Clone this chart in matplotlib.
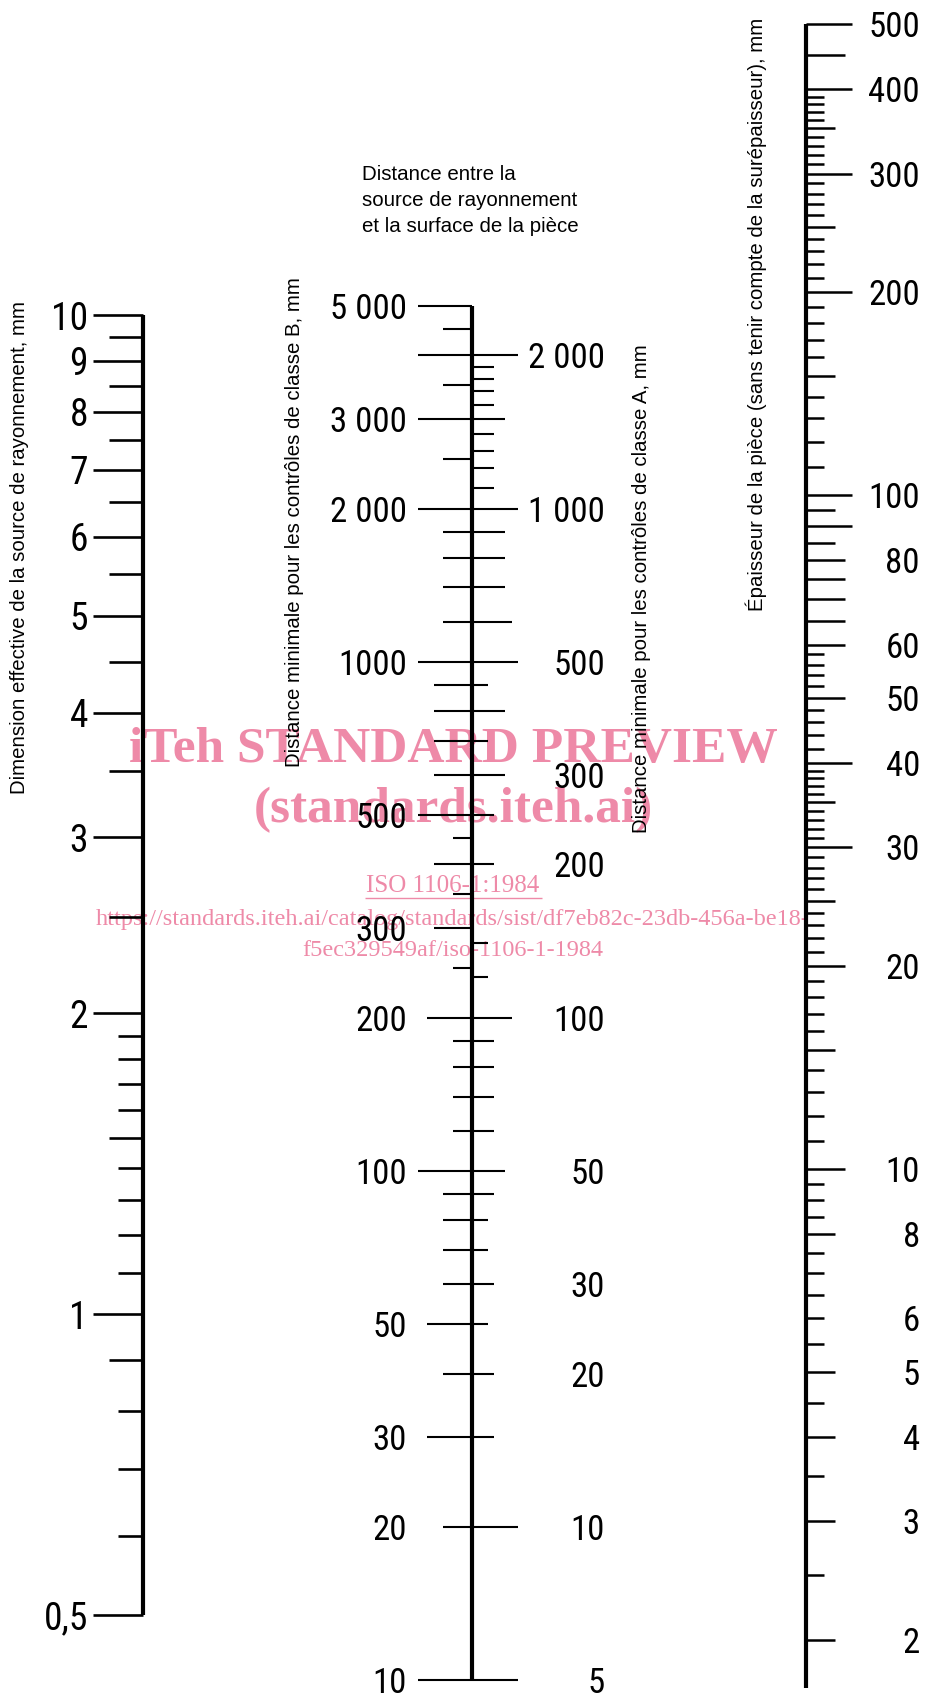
"""Nomogram: source size / source-to-object distance / object thickness (ISO 1106-1)."""

import numpy as np
import matplotlib
matplotlib.use("Agg")
import matplotlib.pyplot as plt
from matplotlib import font_manager as fm

W, H = 929, 1696  # output size in px (dpi 100)

# ---------------------------------------------------------------------------
# Data
# ---------------------------------------------------------------------------

# left scale: effective source size, mm
LEFT_LABEL_VALUES = [0.5, 1, 2, 3, 4, 5, 6, 7, 8, 9, 10]
LEFT_LABELS = ["0,5", "1", "2", "3", "4", "5", "6", "7", "8", "9", "10"]
LEFT_MID_TICKS = [0.9, 1.5, 2.5, 3.5, 4.5, 5.5, 6.5, 7.5, 8.5, 9.5]
LEFT_MINOR_TICKS = [0.6, 0.7, 0.8, 1.1, 1.2, 1.3, 1.4, 1.6, 1.7, 1.8, 1.9]

# middle scale, left side: class B distance, mm
B_LABEL_VALUES = [10, 20, 30, 50, 100, 200, 300, 500, 1000, 2000, 3000, 5000]
B_LABELS = ["10", "20", "30", "50", "100", "200", "300", "500", "1000",
            "2 000", "3 000", "5 000"]
B_TICKS_LONG = [10, 100, 500, 1000, 2000, 3000, 4000, 5000]
B_TICKS_MID = [30, 50, 200]
B_TICKS_SHORT = [300, 400, 600, 700, 800, 900]
B_TICKS_MINOR = [20, 40, 60, 70, 80, 90, 1200, 1400, 1600, 1800, 2500, 3500, 4500]
B_TICKS_TINY = [120, 140, 160, 180, 250, 350, 450]

# middle scale, right side: class A distance, mm (A = B / 2)
A_LABEL_VALUES = [5, 10, 20, 30, 50, 100, 200, 300, 500, 1000, 2000]
A_LABELS = ["5", "10", "20", "30", "50", "100", "200", "300", "500",
            "1 000", "2 000"]
A_TICKS_LONG = [5, 10, 500, 1000, 2000]
A_TICKS_MID = [100, 600]
A_TICKS_SHORT = [50, 300, 400, 700, 800, 900, 1500]
A_TICKS_MINOR = [15, 20, 30, 45, 60, 70, 80, 90, 200, 250,
                 1100, 1200, 1300, 1400, 1600, 1700, 1800, 1900]
A_TICKS_TINY = [25, 35, 40, 120, 140, 350, 450]

# right scale: object thickness, mm
R_LABEL_VALUES = [2, 3, 4, 5, 6, 8, 10, 20, 30, 40, 50, 60, 80, 100, 200, 300, 400, 500]
R_TICKS_LONG = [30, 40, 90, 100, 200, 300, 400, 500]
R_TICKS_MID = [10, 20, 50, 60, 65, 70, 75, 80, 450]
R_TICKS_SHORT = [2, 3, 4, 5, 8, 15, 25, 35, 85, 95, 150, 250, 350]
R_TICKS_MINOR = [2.5, 3.5, 4.5, 5.5, 6, 6.5, 7, 7.5, 8.5, 9, 9.5,
                 11, 12, 13, 14, 16, 17, 18, 19, 21, 22, 23, 24, 26, 27, 28, 29,
                 31, 32, 33, 34, 36, 37, 38, 39, 42, 44, 46, 48, 52, 54, 56, 58,
                 110, 120, 130, 140, 160, 170, 180, 190, 210, 220, 230, 240,
                 260, 270, 280, 290, 310, 320, 330, 340, 360, 370, 380, 390]
R_AXIS_MIN = 1.7

# ---------------------------------------------------------------------------
# Fonts
# ---------------------------------------------------------------------------

_names = {f.name for f in fm.fontManager.ttflist}
NUM_FONT = next((f for f in ["Liberation Sans Narrow", "Roboto Condensed", "Liberation Sans"]
                 if f in _names), "DejaVu Sans")
TXT_FONT = "Liberation Sans"
WM_FONT = "Liberation Serif"
WM_COLOR = "#EE8AA8"

fig = plt.figure(figsize=(W / 100, H / 100), dpi=100)

# background layout axes in px (titles + watermark)
ax0 = fig.add_axes([0, 0, 1, 1])
ax0.set_xlim(0, W)
ax0.set_ylim(H, 0)
ax0.axis("off")


def log_axes(v_a, y_a, v_b, y_b):
    """Full-figure log axes with value v_a at y_a px from top and v_b at y_b."""
    k = (y_a - y_b) / np.log10(v_b / v_a)  # px per decade
    lo = v_a / 10 ** ((H - y_a) / k)
    hi = v_b * 10 ** (y_b / k)
    ax = fig.add_axes([0, 0, 1, 1], facecolor="none")
    ax.set_yscale("log")
    ax.set_ylim(lo, hi)
    ax.set_xlim(0, W)
    ax.axis("off")
    return ax


def ticks(ax, vals, x0, x1, lw):
    ax.hlines(vals, x0, x1, color="black", lw=lw, capstyle="butt", zorder=3)


def labels(ax, vals, texts, x, size, ha="right"):
    for v, s in zip(vals, texts):
        ax.text(x, v, s, ha=ha, va="center_baseline", fontsize=size,
                family=NUM_FONT, color="black", zorder=4)


# ---------------------------------------------------------------------------
# Left scale
# ---------------------------------------------------------------------------
axL = log_axes(0.5, 1615, 10, 315)
XL = 143
axL.vlines(XL, 0.5, 10, color="black", lw=3.0, zorder=3)
ticks(axL, LEFT_LABEL_VALUES, XL - 50, XL, 1.9)
ticks(axL, LEFT_MID_TICKS, XL - 34, XL, 1.9)
ticks(axL, LEFT_MINOR_TICKS, XL - 25, XL, 1.9)
labels(axL, LEFT_LABEL_VALUES, LEFT_LABELS, 88, 27)

# ---------------------------------------------------------------------------
# Middle scale (B on the left, A = B/2 on the right)
# ---------------------------------------------------------------------------
axB = log_axes(10, 1680, 5000, 306)
b_lo, b_hi = axB.get_ylim()
axA = fig.add_axes([0, 0, 1, 1], facecolor="none")
axA.set_yscale("log")
axA.set_ylim(b_lo / 2, b_hi / 2)
axA.set_xlim(0, W)
axA.axis("off")

XM = 472
axB.vlines(XM, 10, 5000, color="black", lw=3.0, zorder=3)
ticks(axB, B_TICKS_LONG, XM - 54, XM, 1.5)
ticks(axB, B_TICKS_MID, XM - 45, XM, 1.5)
ticks(axB, B_TICKS_SHORT, XM - 38, XM, 1.5)
ticks(axB, B_TICKS_MINOR, XM - 29, XM, 1.5)
ticks(axB, B_TICKS_TINY, XM - 19, XM, 1.5)
ticks(axA, A_TICKS_LONG, XM, XM + 46, 1.5)
ticks(axA, A_TICKS_MID, XM, XM + 40, 1.5)
ticks(axA, A_TICKS_SHORT, XM, XM + 33, 1.5)
ticks(axA, A_TICKS_MINOR, XM, XM + 22, 1.5)
ticks(axA, A_TICKS_TINY, XM, XM + 16, 1.5)
labels(axB, B_LABEL_VALUES, B_LABELS, 407, 25)
labels(axA, A_LABEL_VALUES, A_LABELS, 605, 25)

# ---------------------------------------------------------------------------
# Right scale
# ---------------------------------------------------------------------------
axR = log_axes(2, 1640, 500, 24)
XR = 806
axR.vlines(XR, R_AXIS_MIN, 500, color="black", lw=3.0, zorder=3)
ticks(axR, R_TICKS_LONG, XR, XR + 46, 1.8)
ticks(axR, R_TICKS_MID, XR, XR + 39, 1.8)
ticks(axR, R_TICKS_SHORT, XR, XR + 29, 1.8)
ticks(axR, R_TICKS_MINOR, XR, XR + 18, 1.8)
labels(axR, R_LABEL_VALUES, [str(v) for v in R_LABEL_VALUES], 920, 25)

# ---------------------------------------------------------------------------
# Titles
# ---------------------------------------------------------------------------
tkw = dict(rotation=90, ha="center", va="center", fontsize=14.7, family=TXT_FONT,
           color="black", zorder=4)
ax0.text(20, 547, "Dimension effective de la source de rayonnement, mm", **tkw)
ax0.text(295, 522, "Distance minimale pour les contrôles de classe B, mm", **tkw)
ax0.text(642, 589, "Distance minimale pour les contrôles de classe A, mm", **tkw)
ax0.text(756, 314, "Épaisseur de la pièce (sans tenir compte de la surépaisseur), mm", **tkw)
ax0.text(362, 165, "Distance entre la\nsource de rayonnement\net la surface de la pièce",
         ha="left", va="top", fontsize=14.8, family=TXT_FONT, linespacing=1.45)

# ---------------------------------------------------------------------------
# Watermark (pink, under the scales)
# ---------------------------------------------------------------------------
wkw = dict(ha="center", va="center", color=WM_COLOR, family=WM_FONT, zorder=1)
ax0.text(453, 750, "iTeh STANDARD PREVIEW", fontsize=37, weight="bold", **wkw)
ax0.text(453, 810, "(standards.iteh.ai)", fontsize=37, weight="bold", **wkw)
ax0.text(453, 886, "ISO 1106-1:1984", fontsize=18, **wkw)
ax0.hlines(898, 365, 542, color=WM_COLOR, lw=1.0, zorder=1)
ax0.text(453, 920, "https://standards.iteh.ai/catalog/standards/sist/df7eb82c-23db-456a-be18-",
         fontsize=17.5, **wkw)
ax0.text(453, 951, "f5ec329549af/iso-1106-1-1984", fontsize=17.5, **wkw)

fig.savefig("out.png", dpi=100)
